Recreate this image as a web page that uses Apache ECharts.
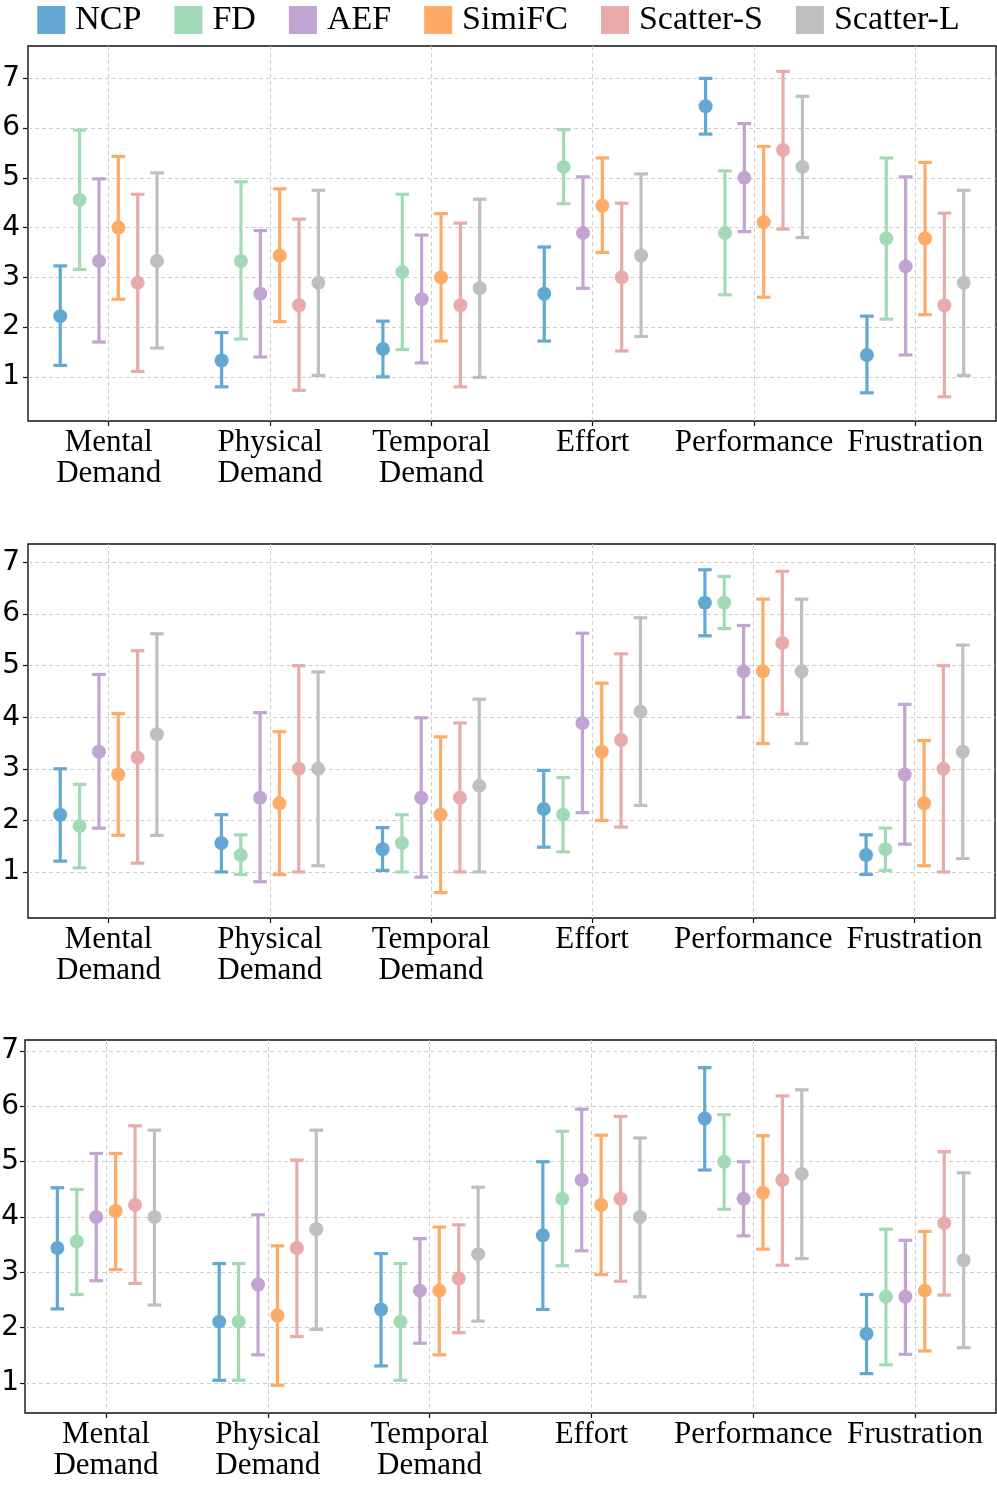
<!DOCTYPE html>
<html>
<head>
<meta charset="utf-8">
<script src="https://cdn.jsdelivr.net/npm/echarts@6/dist/echarts.min.js"></script>
<style>
html,body{margin:0;padding:0;background:#fff;}
#chart{width:997px;height:1488px;}
</style>
</head>
<body>
<div id="chart"></div>
<script>
// ---- Data ----
const categories = ['Mental\nDemand', 'Physical\nDemand', 'Temporal\nDemand', 'Effort', 'Performance', 'Frustration'];
const seriesNames = ['NCP', 'FD', 'AEF', 'SimiFC', 'Scatter-S', 'Scatter-L'];
const seriesColors = ['#62a8d2', '#a3dab6', '#c1a4d1', '#fdab67', '#e8abaa', '#bfbfbf'];
const yTickValues = [1, 2, 3, 4, 5, 6, 7];

// rows = series (NCP, FD, AEF, SimiFC, Scatter-S, Scatter-L); columns = categories
const p1Mean = [
  [2.22, 1.33, 1.56, 2.67, 6.44, 1.44],
  [4.56, 3.33, 3.11, 5.22, 3.89, 3.78],
  [3.33, 2.67, 2.56, 3.89, 5.00, 3.22],
  [4.00, 3.44, 3.00, 4.44, 4.11, 3.78],
  [2.89, 2.44, 2.44, 3.00, 5.56, 2.44],
  [3.33, 2.89, 2.78, 3.44, 5.22, 2.89]
];
const p1Low = [
  [1.23, 0.80, 1.00, 1.72, 5.88, 0.68],
  [3.16, 1.76, 1.55, 4.48, 2.65, 2.16],
  [1.70, 1.40, 1.28, 2.78, 3.92, 1.44],
  [2.56, 2.11, 1.72, 3.50, 2.60, 2.25],
  [1.11, 0.73, 0.80, 1.52, 3.97, 0.60],
  [1.58, 1.03, 0.99, 1.81, 3.80, 1.03]
];
const p1High = [
  [3.23, 1.89, 2.12, 3.61, 7.00, 2.22],
  [5.96, 4.92, 4.67, 5.97, 5.14, 5.40],
  [4.98, 3.94, 3.85, 5.02, 6.09, 5.02],
  [5.43, 4.78, 4.28, 5.40, 5.63, 5.31],
  [4.67, 4.17, 4.09, 4.49, 7.14, 4.29],
  [5.10, 4.75, 4.57, 5.08, 6.64, 4.75]
];

const p2Mean = [
  [2.11, 1.56, 1.44, 2.22, 6.22, 1.33],
  [1.89, 1.33, 1.56, 2.11, 6.22, 1.44],
  [3.33, 2.44, 2.44, 3.89, 4.89, 2.89],
  [2.89, 2.33, 2.11, 3.33, 4.89, 2.33],
  [3.22, 3.00, 2.44, 3.56, 5.44, 3.00],
  [3.67, 3.00, 2.67, 4.11, 4.89, 3.33]
];
const p2Low = [
  [1.21, 1.00, 1.03, 1.48, 5.58, 0.95],
  [1.08, 0.95, 1.00, 1.39, 5.72, 1.03],
  [1.85, 0.81, 0.90, 2.15, 4.00, 1.54],
  [1.71, 0.95, 0.60, 2.00, 3.49, 1.12],
  [1.17, 1.00, 1.00, 1.87, 4.06, 1.00],
  [1.71, 1.12, 1.00, 2.29, 3.49, 1.26]
];
const p2High = [
  [3.00, 2.11, 1.86, 2.97, 6.86, 1.72],
  [2.70, 1.72, 2.11, 2.83, 6.73, 1.85],
  [4.83, 4.09, 3.99, 5.63, 5.78, 4.25],
  [4.07, 3.72, 3.62, 4.66, 6.29, 3.55],
  [5.29, 5.00, 3.89, 5.23, 6.83, 5.00],
  [5.62, 4.88, 4.35, 5.93, 6.29, 5.40]
];

const p3Mean = [
  [3.44, 2.11, 2.33, 3.67, 5.78, 1.89],
  [3.56, 2.11, 2.11, 4.33, 5.00, 2.56],
  [4.00, 2.78, 2.67, 4.67, 4.33, 2.56],
  [4.11, 2.22, 2.67, 4.22, 4.44, 2.67],
  [4.22, 3.44, 2.89, 4.33, 4.67, 3.89],
  [4.00, 3.78, 3.33, 4.00, 4.78, 3.22]
];
const p3Low = [
  [2.34, 1.05, 1.31, 2.33, 4.85, 1.17],
  [2.60, 1.05, 1.05, 3.12, 4.14, 1.33],
  [2.85, 1.51, 1.72, 3.39, 3.66, 1.52],
  [3.05, 0.96, 1.51, 2.96, 3.42, 1.58],
  [2.80, 1.84, 1.91, 2.84, 3.13, 2.59],
  [2.41, 1.97, 2.12, 2.56, 3.25, 1.64]
];
const p3High = [
  [4.53, 3.16, 3.34, 5.00, 6.70, 2.60],
  [4.50, 3.16, 3.16, 5.55, 5.85, 3.78],
  [5.15, 4.04, 3.61, 5.95, 5.00, 3.58],
  [5.15, 3.48, 3.82, 5.48, 5.47, 3.74],
  [5.65, 5.03, 3.86, 5.82, 6.19, 5.18],
  [5.57, 5.57, 4.54, 5.43, 6.30, 4.80]
];

const panels = [
  {mean: p1Mean, low: p1Low, high: p1High, yMin: 0.113, yMax: 7.65},
  {mean: p2Mean, low: p2Low, high: p2High, yMin: 0.107, yMax: 7.36},
  {mean: p3Mean, low: p3Low, high: p3High, yMin: 0.459, yMax: 7.20}
];

// ---- Layout / style ----
const grids = [
  {left: 28, right: 1, top: 46, height: 375},
  {left: 28, right: 2, top: 544, height: 374},
  {left: 25, right: 1, top: 1040, height: 373}
];
const yLabelMargins = [8, 8, 6];
const SERIF = "'Liberation Serif', 'Times New Roman', serif";
const SANS = "'DejaVu Sans', sans-serif";
const OFFSET_STEP = 0.12;   // fraction of a category band between neighbouring series
const CAP_HALF = 6.8;
const DOT_R = 7;
const LINE_W = 3.2;

const chart = echarts.init(document.getElementById('chart'), null, {renderer: 'canvas'});

const xAxes = [], yAxes = [], series = [];
panels.forEach((p, pi) => {
  xAxes.push({
    type: 'category', gridIndex: pi, data: categories, boundaryGap: true,
    axisLine: {show: false},
    axisTick: {show: true, alignWithLabel: true, length: 5, lineStyle: {color: '#111', width: 1.2}},
    axisLabel: {interval: 0, margin: 6, color: '#000', fontFamily: SERIF, fontSize: 31, lineHeight: 31},
    splitLine: {show: true, alignWithLabel: true, lineStyle: {color: '#c8c8c8', type: [4, 3], width: 0.9}}
  });
  yAxes.push({
    type: 'value', gridIndex: pi, min: p.yMin, max: p.yMax, splitNumber: 7,
    axisLine: {show: false},
    axisTick: {show: true, length: 5, customValues: yTickValues, lineStyle: {color: '#111', width: 1.2}},
    axisLabel: {customValues: yTickValues, margin: yLabelMargins[pi], color: '#000', fontFamily: SANS, fontSize: 28,
      formatter: v => String(Math.round(v))},
    splitLine: {show: true, lineStyle: {color: '#c8c8c8', type: [4, 3], width: 0.9}}
  });
  seriesNames.forEach((name, si) => {
    const data = categories.map((c, ci) => [ci, p.mean[si][ci], p.low[si][ci], p.high[si][ci]]);
    const color = seriesColors[si];
    const offset = (si - 2.5) * OFFSET_STEP;
    series.push({
      name: name, type: 'custom', xAxisIndex: pi, yAxisIndex: pi,
      itemStyle: {color: color},
      encode: {x: 0, y: [1, 2, 3]},
      data: data,
      z: 5,
      renderItem: function (params, api) {
        const ci = api.value(0);
        const band = api.size([1, 0])[0];
        const dx = offset * band;
        const pm = api.coord([ci, api.value(1)]);
        const pl = api.coord([ci, api.value(2)]);
        const ph = api.coord([ci, api.value(3)]);
        const x = pm[0] + dx;
        const st = {stroke: color, lineWidth: LINE_W};
        return {
          type: 'group',
          children: [
            {type: 'line', shape: {x1: x, y1: pl[1], x2: x, y2: ph[1]}, style: st},
            {type: 'line', shape: {x1: x - CAP_HALF, y1: pl[1], x2: x + CAP_HALF, y2: pl[1]}, style: st},
            {type: 'line', shape: {x1: x - CAP_HALF, y1: ph[1], x2: x + CAP_HALF, y2: ph[1]}, style: st},
            {type: 'circle', shape: {cx: x, cy: pm[1], r: DOT_R}, style: {fill: color}}
          ]
        };
      }
    });
  });
});

chart.setOption({
  animation: false,
  backgroundColor: '#fff',
  legend: {
    top: 3, left: 'center', padding: 0,
    data: seriesNames.map(n => ({name: n, icon: 'rect'})),
    itemWidth: 28, itemHeight: 28, itemGap: 33,
    textStyle: {fontFamily: SERIF, fontSize: 34, color: '#000', padding: [0, 0, 0, 5]}
  },
  grid: grids.map(g => Object.assign({show: true, containLabel: false, outerBoundsMode: 'none',
    borderColor: '#111', borderWidth: 1.4, backgroundColor: 'transparent'}, g)),
  xAxis: xAxes,
  yAxis: yAxes,
  series: series
});
</script>
</body>
</html>
